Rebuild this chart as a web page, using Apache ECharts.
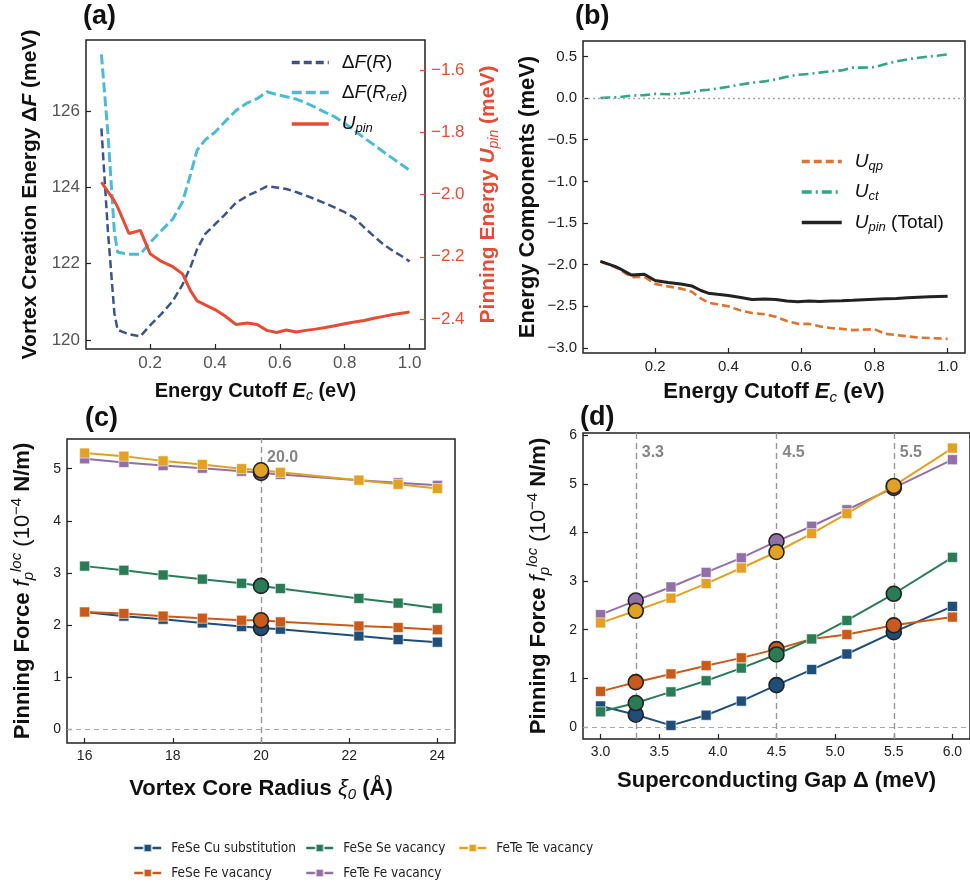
<!DOCTYPE html>
<html>
<head>
<meta charset="utf-8">
<script src="https://cdn.jsdelivr.net/npm/echarts@6/dist/echarts.min.js"></script>
<style>
  html, body { margin: 0; background: #fff; }
  #chart { width: 970px; height: 890px; }
</style>
</head>
<body>
<div id="chart"></div>
<script>
// ---- panel (a) / (b): energy cutoff scan ----
const cutoff = [0.05, 0.07, 0.09, 0.1, 0.135, 0.17, 0.2, 0.235, 0.27, 0.3, 0.325, 0.345, 0.37, 0.4, 0.43, 0.465, 0.5,
  0.53, 0.56, 0.59, 0.62, 0.65, 0.68, 0.71, 0.74, 0.77, 0.8, 0.83, 0.86, 0.89, 0.92, 0.95, 0.975, 1.0];
const dF_R = [125.55, 122.86, 120.7, 120.26, 120.15, 120.09, 120.38, 120.68, 121.02, 121.45, 121.92, 122.38, 122.78,
  123.03, 123.28, 123.6, 123.78, 123.9, 124.03, 124.0, 123.96, 123.88, 123.79, 123.69, 123.58, 123.47, 123.35, 123.2,
  122.95, 122.72, 122.5, 122.33, 122.2, 122.06];
const dF_Rref = [127.49, 125.43, 122.83, 122.3, 122.25, 122.25, 122.55, 122.87, 123.17, 123.62, 124.35, 124.98, 125.25,
  125.45, 125.72, 126.02, 126.22, 126.33, 126.51, 126.44, 126.38, 126.32, 126.22, 126.1, 125.97, 125.85, 125.68, 125.5,
  125.3, 125.12, 124.93, 124.75, 124.6, 124.45];
const U_pin = [-1.96, -1.99, -2.02, -2.04, -2.125, -2.115, -2.19, -2.215, -2.232, -2.255, -2.31, -2.342, -2.355, -2.37,
  -2.39, -2.418, -2.413, -2.418, -2.437, -2.444, -2.436, -2.442, -2.437, -2.433, -2.428, -2.422, -2.416, -2.41, -2.405,
  -2.398, -2.392, -2.386, -2.382, -2.378];
const U_qp = [-1.96, -1.995, -2.03, -2.05, -2.15, -2.145, -2.23, -2.26, -2.287, -2.325, -2.405, -2.455, -2.475, -2.5,
  -2.545, -2.58, -2.595, -2.625, -2.675, -2.71, -2.71, -2.74, -2.76, -2.77, -2.785, -2.78, -2.775, -2.83, -2.845, -2.86,
  -2.875, -2.88, -2.885, -2.89];
const U_ct = [0.0, 0.005, 0.008, 0.01, 0.03, 0.035, 0.05, 0.045, 0.055, 0.07, 0.092, 0.1, 0.115, 0.135, 0.16, 0.185, 0.2,
  0.225, 0.255, 0.28, 0.29, 0.305, 0.322, 0.332, 0.365, 0.365, 0.372, 0.41, 0.44, 0.465, 0.484, 0.5, 0.51, 0.525];

// ---- panel (c): core radius scan ----
const radius = [16, 16.89, 17.78, 18.67, 19.56, 20, 20.44, 22.22, 23.11, 24];
const radiusMarked = [20];
const cuRadius = [2.25, 2.17, 2.11, 2.04, 1.97, 1.94, 1.92, 1.79, 1.72, 1.67];
const feRadius = [2.25, 2.22, 2.17, 2.13, 2.09, 2.09, 2.06, 1.98, 1.95, 1.91];
const seRadius = [3.13, 3.05, 2.96, 2.88, 2.80, 2.75, 2.70, 2.51, 2.42, 2.32];
const teFeRadius = [5.19, 5.12, 5.06, 5.01, 4.95, 4.92, 4.89, 4.78, 4.73, 4.68];
const teTeRadius = [5.30, 5.24, 5.15, 5.08, 5.00, 4.97, 4.93, 4.78, 4.70, 4.62];

// ---- panel (d): gap scan ----
const gapVals = [3.0, 3.3, 3.6, 3.9, 4.2, 4.5, 4.8, 5.1, 5.5, 6.0];
const gapMarked = [3.3, 4.5, 5.5];
const cuGap = [0.43, 0.25, 0.03, 0.24, 0.53, 0.86, 1.18, 1.50, 1.95, 2.48];
const feGap = [0.73, 0.92, 1.09, 1.26, 1.42, 1.60, 1.81, 1.90, 2.09, 2.26];
const seGap = [0.31, 0.49, 0.72, 0.95, 1.21, 1.49, 1.81, 2.19, 2.74, 3.49];
const teFeGap = [2.31, 2.60, 2.88, 3.18, 3.48, 3.82, 4.13, 4.47, 4.92, 5.50];
const teTeGap = [2.14, 2.39, 2.65, 2.95, 3.27, 3.60, 3.98, 4.39, 4.96, 5.74];

const defectNames = ['FeSe Cu substitution', 'FeSe Fe vacancy', 'FeSe Se vacancy', 'FeTe Fe vacancy', 'FeTe Te vacancy'];
const defectColors = ['#1f4e79', '#c85a1c', '#2a7c56', '#9170a8', '#e0a125'];

const FONT = "'Liberation Sans', Arial, sans-serif";
const minus = s => s.replace('-', '\u2212');

const chart = echarts.init(document.getElementById('chart'));

function pairs(xs, ys) {
  return xs.map((x, i) => [x, ys[i]]);
}

// squares on every point, big outlined circles on the highlighted ones
function markedPairs(xs, ys, marked) {
  return xs.map((x, i) => marked.includes(x)
    ? { value: [x, ys[i]], symbol: 'circle', symbolSize: 15, itemStyle: { borderColor: '#222', borderWidth: 1.6 } }
    : [x, ys[i]]);
}

// rich styles for axis names at a given size/colour
function nameRich(size, color) {
  color = color || '#111';
  const lh = Math.round(size * 1.4);
  const small = Math.round(size * 0.68);
  const base = { fontFamily: FONT, fontSize: size, color, lineHeight: lh };
  return {
    b: Object.assign({}, base, { fontWeight: 'bold' }),
    bi: Object.assign({}, base, { fontWeight: 'bold', fontStyle: 'italic' }),
    m: Object.assign({}, base),
    mi: Object.assign({}, base, { fontStyle: 'italic' }),
    sub: { fontFamily: FONT, fontStyle: 'italic', fontSize: small, color, lineHeight: lh, verticalAlign: 'bottom', padding: [0, 0, 2, 0] },
    sup: { fontFamily: FONT, fontStyle: 'italic', fontSize: small, color, lineHeight: lh, verticalAlign: 'top', padding: [2, 0, 0, 0] },
    supn: { fontFamily: FONT, fontSize: small, color, lineHeight: lh, verticalAlign: 'top', padding: [2, 0, 0, 0] }
  };
}

function valueAxis(o) {
  return {
    type: 'value',
    gridIndex: o.grid,
    position: o.position,
    min: o.min,
    max: o.max,
    name: o.name,
    nameLocation: 'middle',
    nameGap: o.nameGap,
    nameRotate: o.rotate,
    nameTextStyle: { rich: nameRich(o.nameSize, o.nameColor) },
    axisLine: { show: false, onZero: false },
    axisTick: { show: true, inside: true, length: 5, customValues: o.ticks,
      lineStyle: { color: o.tickColor || '#222', width: 1.2 } },
    axisLabel: { show: true, customValues: o.ticks, fontFamily: FONT, fontSize: o.fontSize, color: o.labelColor || '#222',
      margin: 6, formatter: v => minus(o.fmt(v)) },
    splitLine: { show: false }
  };
}

const fix1 = v => v.toFixed(1);
const fix0 = v => v.toFixed(0);

const xAxis = [
  valueAxis({ grid: 0, min: 0.0025, max: 1.0475, ticks: [0.2, 0.4, 0.6, 0.8, 1.0], fmt: fix1, fontSize: 17, labelColor: '#555',
    name: '{b|Energy Cutoff }{bi|E}{sub|c}{b| (eV)}', nameGap: 28, nameSize: 20 }),
  valueAxis({ grid: 1, min: 0.0025, max: 1.0475, ticks: [0.2, 0.4, 0.6, 0.8, 1.0], fmt: fix1, fontSize: 15,
    name: '{b|Energy Cutoff }{bi|E}{sub|c}{b| (eV)}', nameGap: 23, nameSize: 22 }),
  valueAxis({ grid: 2, min: 15.6, max: 24.4, ticks: [16, 18, 20, 22, 24], fmt: fix0, fontSize: 14,
    name: '{b|Vortex Core Radius }{mi|\u03be}{sub|0}{b| (\u00c5)}', nameGap: 30, nameSize: 22 }),
  valueAxis({ grid: 3, min: 2.85, max: 6.15, ticks: [3.0, 3.5, 4.0, 4.5, 5.0, 5.5, 6.0], fmt: fix1, fontSize: 14,
    name: '{b|Superconducting Gap \u0394 (meV)}', nameGap: 26, nameSize: 22 })
];

const forceName = '{b|Pinning Force }{mi|f}{sub|p}{sup|loc}{m| (10}{supn|\u22124}{b| N/m)}';
const yAxis = [
  valueAxis({ grid: 0, min: 119.76, max: 127.87, ticks: [120, 122, 124, 126], fmt: fix0, fontSize: 17, labelColor: '#555',
    name: '{b|Vortex Creation Energy \u0394}{bi|F}{b| (meV)}', nameGap: 41, rotate: 90, nameSize: 21 }),
  valueAxis({ grid: 0, position: 'right', min: -2.497, max: -1.502, ticks: [-2.4, -2.2, -2.0, -1.8, -1.6], fmt: fix1,
    fontSize: 17, labelColor: '#e64b35', tickColor: '#e64b35',
    name: '{b|Pinning Energy }{bi|U}{sub|pin}{b| (meV)}', nameGap: 49, rotate: 90, nameSize: 21, nameColor: '#e64b35' }),
  valueAxis({ grid: 1, min: -3.06, max: 0.685, ticks: [-3.0, -2.5, -2.0, -1.5, -1.0, -0.5, 0.0, 0.5], fmt: fix1, fontSize: 15,
    name: '{b|Energy Components (meV)}', nameGap: 40, rotate: 90, nameSize: 22 }),
  valueAxis({ grid: 2, min: -0.265, max: 5.57, ticks: [0, 1, 2, 3, 4, 5], fmt: fix0, fontSize: 14,
    name: forceName, nameGap: 29, rotate: 90, nameSize: 22 }),
  valueAxis({ grid: 3, min: -0.25, max: 6.05, ticks: [0, 1, 2, 3, 4, 5, 6], fmt: fix0, fontSize: 14,
    name: forceName, nameGap: 29, rotate: 90, nameSize: 22 })
];

const gridBase = { show: true, borderColor: '#222', borderWidth: 1.5, backgroundColor: 'transparent', containLabel: false };
const grid = [
  Object.assign({ left: 86, top: 40, width: 339, height: 309 }, gridBase),
  Object.assign({ left: 583, top: 41, width: 382, height: 312 }, gridBase),
  Object.assign({ left: 67, top: 439, width: 388, height: 304 }, gridBase),
  Object.assign({ left: 583, top: 433, width: 392, height: 306 }, gridBase)
];

const series = [];

// (a)
series.push({ name: 'dFR', type: 'line', xAxisIndex: 0, yAxisIndex: 0, data: pairs(cutoff, dF_R),
  symbol: 'none', lineStyle: { color: '#3c5488', width: 2.5, type: [8, 4] }, itemStyle: { color: '#3c5488' } });
series.push({ name: 'dFRref', type: 'line', xAxisIndex: 0, yAxisIndex: 0, data: pairs(cutoff, dF_Rref),
  symbol: 'none', lineStyle: { color: '#4dbbd5', width: 3, type: [10, 4] }, itemStyle: { color: '#4dbbd5' } });
series.push({ name: 'UpinA', type: 'line', xAxisIndex: 0, yAxisIndex: 1, data: pairs(cutoff, U_pin),
  symbol: 'none', lineStyle: { color: '#e64b35', width: 3 }, itemStyle: { color: '#e64b35' } });

// (b)
series.push({ name: 'Uqp', type: 'line', xAxisIndex: 1, yAxisIndex: 2, data: pairs(cutoff, U_qp), symbol: 'none',
  lineStyle: { color: '#dd7433', width: 2.6, type: [8, 4] }, itemStyle: { color: '#dd7433' } });
series.push({ name: 'Uct', type: 'line', xAxisIndex: 1, yAxisIndex: 2, data: pairs(cutoff, U_ct), symbol: 'none',
  lineStyle: { color: '#35a77f', width: 2.6, type: [10, 4, 2, 4] }, itemStyle: { color: '#35a77f' },
  markLine: { silent: true, symbol: 'none', label: { show: false }, data: [{ yAxis: 0 }],
    lineStyle: { color: '#aaa', width: 1.3, type: [2, 3] } } });
series.push({ name: 'UpinB', type: 'line', xAxisIndex: 1, yAxisIndex: 2, data: pairs(cutoff, U_pin), symbol: 'none',
  lineStyle: { color: '#222', width: 3 }, itemStyle: { color: '#222' } });

// (c) and (d)
const radiusSets = [cuRadius, feRadius, seRadius, teFeRadius, teTeRadius];
const gapSets = [cuGap, feGap, seGap, teFeGap, teTeGap];
const guideStyle = { color: '#999', width: 1.4, type: [6, 4] };
const zeroStyle = { color: '#aaa', width: 1.2, type: [5, 4] };

defectNames.forEach((name, k) => {
  const common = {
    name, type: 'line', symbol: 'rect', symbolSize: 10, z: 3 + k,
    lineStyle: { color: defectColors[k], width: 2 },
    itemStyle: { color: defectColors[k], borderColor: 'rgba(255,255,255,0.7)', borderWidth: 0.8 }
  };
  const c = Object.assign({}, common, { xAxisIndex: 2, yAxisIndex: 3, data: markedPairs(radius, radiusSets[k], radiusMarked) });
  const d = Object.assign({}, common, { xAxisIndex: 3, yAxisIndex: 4, data: markedPairs(gapVals, gapSets[k], gapMarked) });
  if (k === 0) {
    c.markLine = { silent: true, symbol: 'none', label: { show: false }, z: 1, data: [
      { yAxis: 0, lineStyle: zeroStyle }, { xAxis: radiusMarked[0], lineStyle: guideStyle }] };
    d.markLine = { silent: true, symbol: 'none', label: { show: false }, z: 1, data: [
      { yAxis: 0, lineStyle: zeroStyle }].concat(gapMarked.map(g => ({ xAxis: g, lineStyle: guideStyle }))) };
  }
  series.push(c, d);
});

// value tags next to the guide lines
const tagLabel = { show: true, position: 'right', distance: 6, fontFamily: FONT, fontWeight: 'bold', fontSize: 16, color: '#666',
  formatter: p => p.value[0].toFixed(1) };
series.push({ name: 'tagC', type: 'scatter', xAxisIndex: 2, yAxisIndex: 3, symbolSize: 0, silent: true,
  data: radiusMarked.map(r => [r, 5.22]), label: tagLabel });
series.push({ name: 'tagD', type: 'scatter', xAxisIndex: 3, yAxisIndex: 4, symbolSize: 0, silent: true,
  data: gapMarked.map(g => [g, 5.64]), label: tagLabel });

const legRich = {
  t: { fontFamily: FONT, fontSize: 19, color: '#111', lineHeight: 22 },
  i: { fontFamily: FONT, fontStyle: 'italic', fontSize: 19, color: '#111', lineHeight: 22 },
  s: { fontFamily: FONT, fontStyle: 'italic', fontSize: 13, color: '#111', lineHeight: 22, verticalAlign: 'bottom' }
};
const legendText = {
  dFR: '{t|\u0394}{i|F}{t|(}{i|R}{t|)}',
  dFRref: '{t|\u0394}{i|F}{t|(}{i|R}{s|ref}{t|)}',
  UpinA: '{i|U}{s|pin}',
  Uqp: '{i|U}{s|qp}',
  Uct: '{i|U}{s|ct}',
  UpinB: '{i|U}{s|pin}{t| (Total)}'
};
// line-only keys: the symbol part of the icon is made transparent
const legendBase = { orient: 'vertical', itemWidth: 37, itemHeight: 14, itemGap: 11, padding: 0,
  itemStyle: { opacity: 0 }, lineStyle: { width: 3.5 },
  formatter: n => legendText[n], textStyle: { rich: legRich, padding: [0, 0, 0, 8] }, selectedMode: false };
const bottomLegend = { orient: 'vertical', itemWidth: 27, itemHeight: 10, itemGap: 9, padding: 0, selectedMode: false,
  lineStyle: { width: 2.5 },
  textStyle: { fontFamily: "'DejaVu Sans Condensed', 'Liberation Sans Narrow', sans-serif", fontSize: 13.5, color: '#222',
    lineHeight: 16, padding: [0, 0, 0, 5] } };

const legend = [
  Object.assign({}, legendBase, { left: 290, top: 53, data: ['dFR', 'dFRref', 'UpinA'] }),
  Object.assign({}, legendBase, { left: 800, top: 152, itemGap: 10, itemWidth: 40, data: ['Uqp', 'Uct', 'UpinB'] }),
  Object.assign({}, bottomLegend, { left: 133, top: 840, data: defectNames.slice(0, 2) }),
  Object.assign({}, bottomLegend, { left: 305, top: 840, data: defectNames.slice(2, 4) }),
  Object.assign({}, bottomLegend, { left: 458, top: 840, data: defectNames.slice(4) })
];

const titleStyle = { fontFamily: FONT, fontWeight: 'bold', fontSize: 27, color: '#111' };
const title = [
  { text: '(a)', left: 83, top: 3, padding: 0, textStyle: titleStyle },
  { text: '(b)', left: 575, top: 3, padding: 0, textStyle: titleStyle },
  { text: '(c)', left: 85, top: 405, padding: 0, textStyle: titleStyle },
  { text: '(d)', left: 580, top: 404, padding: 0, textStyle: titleStyle }
];

chart.setOption({
  animation: false,
  backgroundColor: '#fff',
  title, grid, xAxis, yAxis, legend, series
});
window.addEventListener('resize', () => chart.resize());
</script>
</body>
</html>
